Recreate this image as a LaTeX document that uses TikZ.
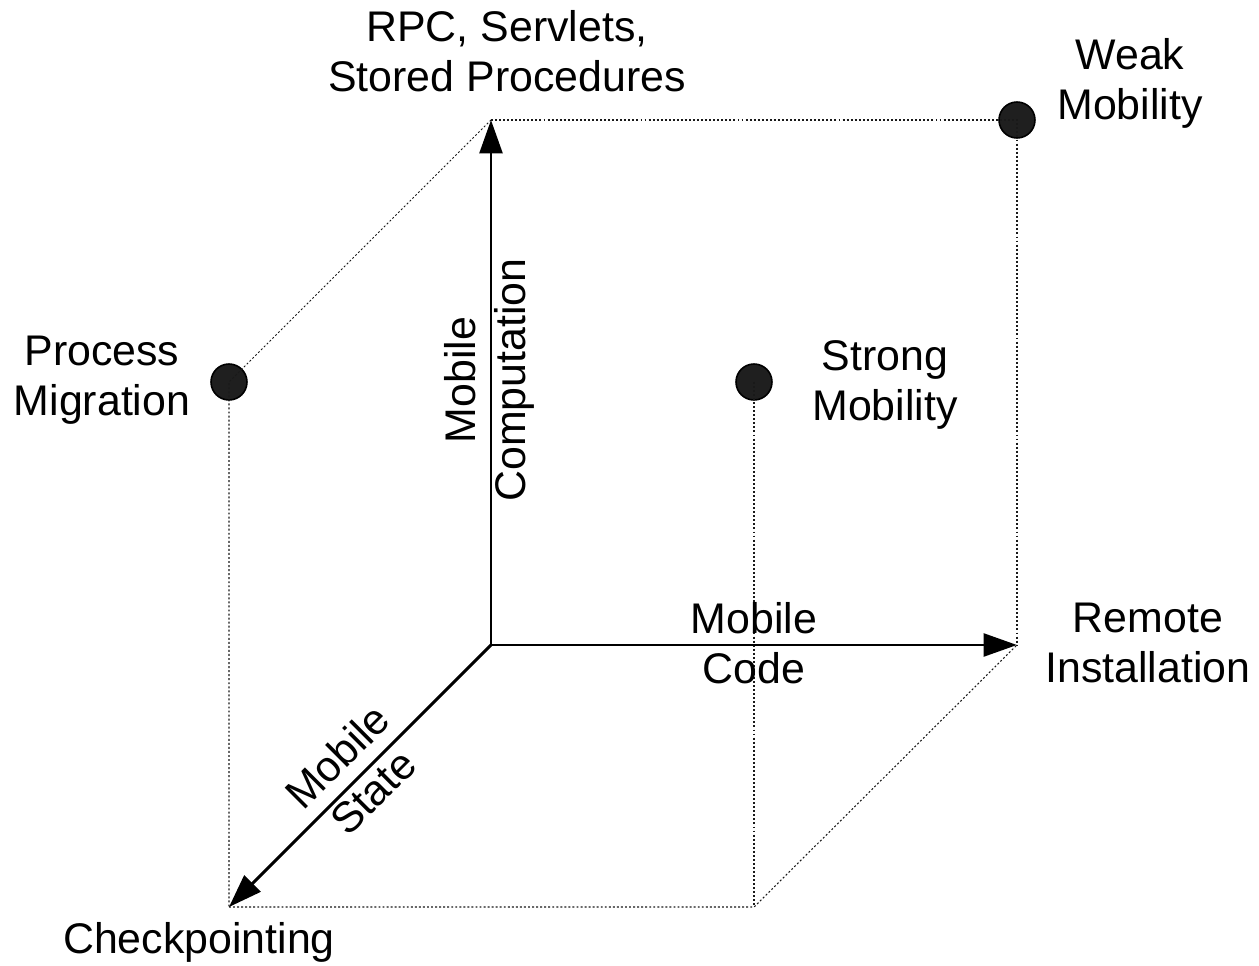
\documentclass[tikz,border=0pt]{standalone}
\usepackage{fontspec}
\setmainfont{Liberation Sans}
\usetikzlibrary{arrows.meta}
\begin{document}
\begin{tikzpicture}[x=0.02cm,y=-0.02cm,
  axis/.style={line width=1.7pt,-{Triangle[length=19pt,width=13pt]}},
  guide/.style={line width=0.6pt,dash pattern=on 1.1pt off 1.2pt,black!90},
  spot/.style={circle,fill=black!88,draw=black,line width=0.9pt,minimum size=0.72cm,inner sep=0pt},
  lbl/.style={align=center,inner sep=0pt,font=\fontsize{24.4pt}{28.5pt}\selectfont}]
\useasboundingbox (0,0) rectangle (1259,966);
% corners of the cube
\coordinate (O) at (491,645);
\coordinate (T) at (491,120);
\coordinate (R) at (1017,645);
\coordinate (B) at (229,907);
\coordinate (BR) at (754,907);
% marked positions
\node[spot] (pm) at (229,382) {};
\node[spot] (sm) at (754,382) {};
\node[spot] (wm) at (1017,120) {};
% dotted cube edges
\draw[guide] (T) -- (wm.center) -- (R);
\draw[guide] (T) -- (pm.center) -- (B);
\draw[guide] (B) -- (BR) -- (R);
\draw[guide] (sm.center) -- (BR);
% axes
\draw[axis] (O) -- (T);
\draw[axis] (O) -- (R);
\draw[axis] (O) -- (B);
% labels
\node[lbl] (rpc) at (507,51) {RPC, Servlets,\\Stored Procedures};
\node[lbl] (weak) at (1130,83) {Weak\\Mobility};
\node[lbl] (proc) at (102,380) {Process\\Migration};
\node[lbl] (strong) at (885,385) {Strong\\Mobility};
\node[lbl,rotate=90] (mcomp) at (489,380) {Mobile\\Computation};
\node[lbl] (mcode) at (754,643) {Mobile\\Code};
\node[lbl] (remote) at (1148,643) {Remote\\Installation};
\node[lbl,rotate=45] (mstate) at (355,774) {Mobile\\State};
\node[lbl] (check) at (199,942) {Checkpointing};
\end{tikzpicture}
\end{document}
